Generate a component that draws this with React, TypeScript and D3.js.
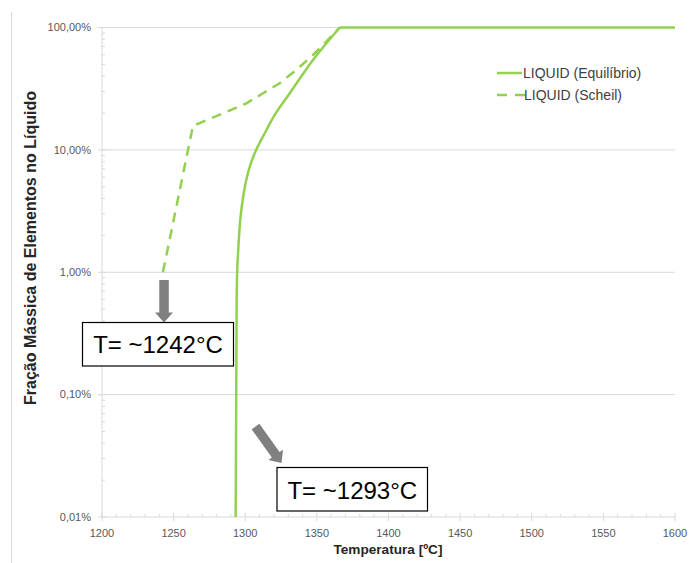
import React from "react";
import * as d3 from "d3";

// ---- data ----
const xTicks = [1200, 1250, 1300, 1350, 1400, 1450, 1500, 1550, 1600];
const yTicks = [0.01, 0.1, 1, 10, 100];
const yTickLabels = ["0,01%", "0,10%", "1,00%", "10,00%", "100,00%"];

// LIQUID (Equilíbrio): temperature (°C) and mass fraction (%)
const eqTemp = [1293.3, 1293.7, 1294.0, 1294.4, 1295.3, 1296.5, 1298.2, 1300.7, 1303.5, 1307.6, 1312.9, 1320.6, 1330.7, 1347.3, 1366.0];
const eqValue = [0.01, 0.09, 0.59, 1.04, 1.67, 2.67, 3.89, 5.67, 7.52, 9.98, 13.2, 19.3, 28.6, 54.3, 100];
const eqFlatTemp = [1366.0, 1600];
const eqFlatValue = [100, 100];

// LIQUID (Scheil)
const scheilTemp = [1242.5, 1263.5, 1284.5, 1300.8, 1312.4, 1324.0, 1335.7, 1347.3, 1356.6, 1366.0];
const scheilValue = [1.0, 15.7, 19.9, 24.0, 29.0, 35.0, 45.0, 59.6, 76.6, 100];

const seriesNames = ["LIQUID (Equilíbrio)", "LIQUID (Scheil)"];
const annotationLabels = ["T= ~1242°C", "T= ~1293°C"];

// ---- layout ----
const W = 696;
const H = 563;
const PX0 = 102;
const PX1 = 675;
const PY0 = 27.5;
const PY1 = 517;
const GREEN = "#92d050";
const FONT = "'Liberation Sans', Arial, sans-serif";

export default function App() {
  const x = d3.scaleLinear().domain([1200, 1600]).range([PX0, PX1]);
  const y = d3.scaleLog().domain([0.01, 100]).range([PY1, PY0]);

  const line = d3
    .line<[number, number]>()
    .x((d) => x(d[0]))
    .y((d) => y(d[1]));
  const smooth = d3
    .line<[number, number]>()
    .x((d) => x(d[0]))
    .y((d) => y(d[1]))
    .curve(d3.curveCatmullRom.alpha(0.5));

  const eqPts = eqTemp.map((t, i) => [t, eqValue[i]] as [number, number]);
  const eqFlat = eqFlatTemp.map((t, i) => [t, eqFlatValue[i]] as [number, number]);
  const scPts = scheilTemp.map((t, i) => [t, scheilValue[i]] as [number, number]);

  // minor ticks
  const xMinor: number[] = [];
  for (let t = 1200; t <= 1600; t += 10) if (t % 50 !== 0) xMinor.push(t);
  const yMinor: number[] = [];
  for (let e = -2; e < 2; e++) for (let k = 2; k <= 9; k++) yMinor.push(k * Math.pow(10, e));

  // annotation 1 (vertical arrow to Scheil start)
  const a1x = x(1243.3);
  const a1Top = 280;
  const a1Tip = 322.5;
  const shaftW = 9.5;
  const headW = 18;
  const headL = 10;
  const arrow1 = [
    [a1x - shaftW / 2, a1Top],
    [a1x + shaftW / 2, a1Top],
    [a1x + shaftW / 2, a1Tip - headL],
    [a1x + headW / 2, a1Tip - headL],
    [a1x, a1Tip],
    [a1x - headW / 2, a1Tip - headL],
    [a1x - shaftW / 2, a1Tip - headL],
  ];

  // annotation 2 (diagonal arrow)
  const s = [255.5, 426.5];
  const e = [281.5, 463];
  const dx = e[0] - s[0];
  const dy = e[1] - s[1];
  const L = Math.hypot(dx, dy);
  const ux = dx / L;
  const uy = dy / L;
  const nx = -uy;
  const ny = ux;
  const bx = e[0] - ux * headL;
  const by = e[1] - uy * headL;
  const arrow2 = [
    [s[0] + nx * shaftW / 2, s[1] + ny * shaftW / 2],
    [bx + nx * shaftW / 2, by + ny * shaftW / 2],
    [bx + nx * headW / 2, by + ny * headW / 2],
    [e[0], e[1]],
    [bx - nx * headW / 2, by - ny * headW / 2],
    [bx - nx * shaftW / 2, by - ny * shaftW / 2],
    [s[0] - nx * shaftW / 2, s[1] - ny * shaftW / 2],
  ];

  const poly = (p: number[][]) => p.map((q) => q.join(",")).join(" ");

  return (
    <svg
      width={W}
      height={H}
      style={{ position: "absolute", left: 0, top: 0, background: "#fff" }}
      fontFamily={FONT}
    >
      <rect x={0} y={0} width={W} height={H} fill="#fff" />
      {/* frame left edge */}
      <line x1={11.5} x2={11.5} y1={12} y2={H} stroke="#d9d9d9" strokeWidth={1} />

      {/* gridlines */}
      {yTicks.slice(1).map((v) => (
        <line key={"g" + v} x1={PX0} x2={PX1} y1={y(v)} y2={y(v)} stroke="#d9d9d9" strokeWidth={1} />
      ))}

      {/* axes */}
      <line x1={PX0} x2={PX0} y1={PY0} y2={PY1} stroke="#d9d9d9" strokeWidth={1} />
      <line x1={PX0} x2={PX1} y1={PY1} y2={PY1} stroke="#d9d9d9" strokeWidth={1} />
      {yTicks.map((v) => (
        <line key={"yt" + v} x1={PX0 - 4} x2={PX0 + 4} y1={y(v)} y2={y(v)} stroke="#d9d9d9" />
      ))}
      {yMinor.map((v) => (
        <line key={"ym" + v} x1={PX0} x2={PX0 + 3} y1={y(v)} y2={y(v)} stroke="#d9d9d9" />
      ))}
      {xTicks.map((t) => (
        <line key={"xt" + t} x1={x(t)} x2={x(t)} y1={PY1 - 4} y2={PY1 + 4} stroke="#d9d9d9" />
      ))}
      {xMinor.map((t) => (
        <line key={"xm" + t} x1={x(t)} x2={x(t)} y1={PY1 - 3} y2={PY1} stroke="#d9d9d9" />
      ))}

      {/* tick labels */}
      {yTicks.map((v, i) => (
        <text key={"yl" + v} x={91} y={y(v)} dy="0.35em" textAnchor="end" fontSize={11} fill="#595959">
          {yTickLabels[i]}
        </text>
      ))}
      {xTicks.map((t) => (
        <text key={"xl" + t} x={x(t)} y={537} textAnchor="middle" fontSize={11} fill="#595959">
          {t}
        </text>
      ))}

      {/* axis titles */}
      <text x={388} y={554} textAnchor="middle" fontSize={13.6} fontWeight="bold" fill="#262626">
        Temperatura [ºC]
      </text>
      <text
        transform={`translate(36,248) rotate(-90)`}
        textAnchor="middle"
        fontSize={16}
        fontWeight="bold"
        fill="#262626"
      >
        Fração Mássica de Elementos no Líquido
      </text>

      {/* series */}
      <path d={line(scPts) || ""} fill="none" stroke={GREEN} strokeWidth={2.5} strokeDasharray="10,7" />
      <path d={smooth(eqPts) || ""} fill="none" stroke={GREEN} strokeWidth={2.5} />
      <path d={line(eqFlat) || ""} fill="none" stroke={GREEN} strokeWidth={2.5} />

      {/* legend */}
      <line x1={497} x2={522} y1={73} y2={73} stroke={GREEN} strokeWidth={2.5} />
      <text x={523} y={78} fontSize={14} fill="#404040">
        {seriesNames[0]}
      </text>
      <line x1={497} x2={525} y1={95} y2={95} stroke={GREEN} strokeWidth={2.5} strokeDasharray="10,8" />
      <text x={524} y={100} fontSize={14} fill="#404040">
        {seriesNames[1]}
      </text>

      {/* annotations */}
      <polygon points={poly(arrow1)} fill="#808080" />
      <polygon points={poly(arrow2)} fill="#808080" />
      <rect x={82.5} y={322.5} width={151} height={43.5} fill="#fff" stroke="#000" strokeWidth={1.2} />
      <text x={158} y={353} textAnchor="middle" fontSize={24} fill="#000">
        {annotationLabels[0]}
      </text>
      <rect x={277} y={467.5} width={150.5} height={43.5} fill="#fff" stroke="#000" strokeWidth={1.2} />
      <text x={352.3} y={499} textAnchor="middle" fontSize={24} fill="#000">
        {annotationLabels[1]}
      </text>
    </svg>
  );
}
